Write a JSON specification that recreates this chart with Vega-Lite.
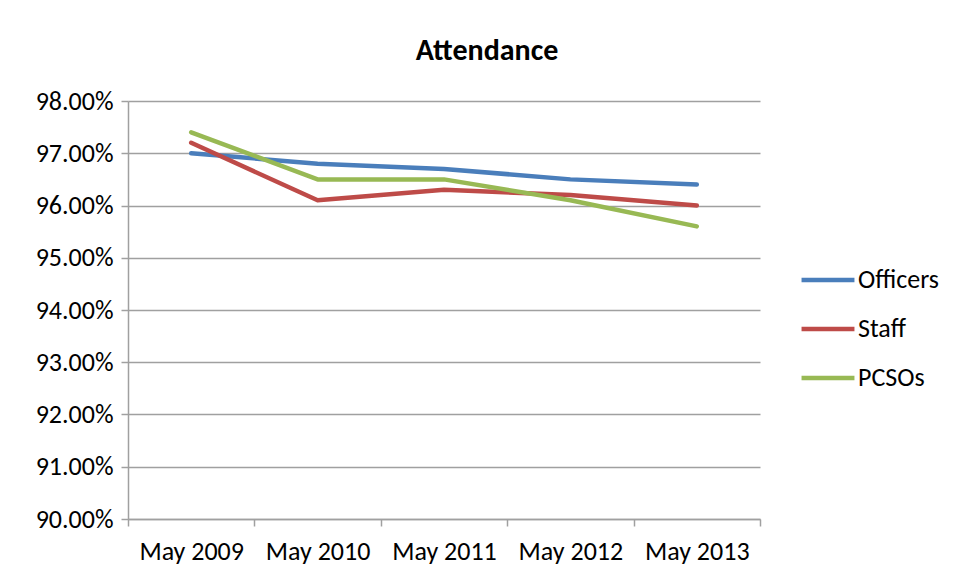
{
  "$schema": "https://vega.github.io/schema/vega-lite/v6.json",
  "width": 632,
  "height": 418,
  "autosize": "none",
  "padding": {"left": 128, "top": 101, "right": 195, "bottom": 61},
  "background": "white",
  "title": {
    "text": "Attendance",
    "font": "Carlito, Liberation Sans Narrow, Liberation Sans",
    "fontSize": 30,
    "fontWeight": "bold",
    "color": "#000000",
    "anchor": "middle",
    "frame": "bounds",
    "offset": 22
  },
  "data": {
    "values": [
      {"month": "May 2009", "series": "Officers", "value": 0.970},
      {"month": "May 2010", "series": "Officers", "value": 0.968},
      {"month": "May 2011", "series": "Officers", "value": 0.967},
      {"month": "May 2012", "series": "Officers", "value": 0.965},
      {"month": "May 2013", "series": "Officers", "value": 0.964},
      {"month": "May 2009", "series": "Staff", "value": 0.972},
      {"month": "May 2010", "series": "Staff", "value": 0.961},
      {"month": "May 2011", "series": "Staff", "value": 0.963},
      {"month": "May 2012", "series": "Staff", "value": 0.962},
      {"month": "May 2013", "series": "Staff", "value": 0.960},
      {"month": "May 2009", "series": "PCSOs", "value": 0.974},
      {"month": "May 2010", "series": "PCSOs", "value": 0.965},
      {"month": "May 2011", "series": "PCSOs", "value": 0.965},
      {"month": "May 2012", "series": "PCSOs", "value": 0.961},
      {"month": "May 2013", "series": "PCSOs", "value": 0.956}
    ]
  },
  "mark": {"type": "line", "strokeWidth": 4.5, "strokeCap": "round", "strokeJoin": "round"},
  "encoding": {
    "x": {
      "field": "month",
      "type": "ordinal",
      "title": null,
      "scale": {"type": "band", "paddingInner": 0, "paddingOuter": 0},
      "axis": {
        "labelAngle": 0,
        "tickBand": "extent",
        "grid": false,
        "domainColor": "#a0a0a0",
        "tickColor": "#a0a0a0",
        "tickSize": 7,
        "labelPadding": 12,
        "labelFontSize": 26,
        "labelColor": "#000000",
        "labelFont": "Carlito, Liberation Sans Narrow, Liberation Sans"
      }
    },
    "y": {
      "field": "value",
      "type": "quantitative",
      "title": null,
      "scale": {"domain": [0.90, 0.98], "nice": false, "zero": false},
      "axis": {
        "values": [0.90, 0.91, 0.92, 0.93, 0.94, 0.95, 0.96, 0.97, 0.98],
        "format": ".2%",
        "grid": true,
        "gridColor": "#a0a0a0",
        "gridWidth": 1.5,
        "domainColor": "#a0a0a0",
        "tickColor": "#a0a0a0",
        "tickSize": 7,
        "labelPadding": 8,
        "labelFontSize": 26,
        "labelColor": "#000000",
        "labelFont": "Carlito, Liberation Sans Narrow, Liberation Sans"
      }
    },
    "color": {
      "field": "series",
      "type": "nominal",
      "sort": ["Officers", "Staff", "PCSOs"],
      "scale": {"domain": ["Officers", "Staff", "PCSOs"], "range": ["#4a7ebb", "#be4b48", "#98b954"]},
      "legend": {
        "title": null,
        "orient": "none",
        "legendX": 671,
        "legendY": 150,
        "symbolType": "stroke",
        "symbolSize": 2800,
        "symbolStrokeWidth": 4.5,
        "labelFontSize": 26,
        "labelColor": "#000000",
        "labelFont": "Carlito, Liberation Sans Narrow, Liberation Sans",
        "labelOffset": 1,
        "rowPadding": 7
      }
    }
  },
  "config": {
    "view": {"stroke": null},
    "axis": {"domainWidth": 1.5, "tickWidth": 1.5}
  }
}
